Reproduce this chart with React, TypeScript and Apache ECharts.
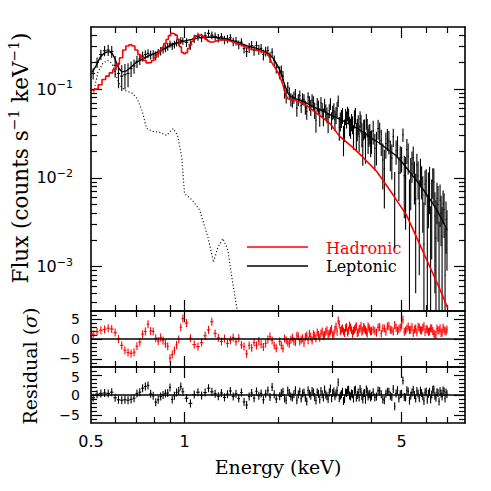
import React, { useEffect, useRef } from 'react';
import * as echarts from 'echarts';

// ---------------- data ----------------
// spectral bins (keV)
const binEnergy = [
  0.508, 0.523, 0.538, 0.553, 0.568, 0.583, 0.598, 0.613, 0.628, 0.643, 0.658, 0.673, 0.688, 0.703, 0.718, 0.733, 0.748,
  0.763, 0.778, 0.793, 0.808, 0.823, 0.838, 0.853, 0.868, 0.883, 0.898, 0.913, 0.928, 0.943, 0.958, 0.973, 0.988,
  1.015, 1.045, 1.075, 1.105, 1.135, 1.165, 1.195, 1.225, 1.255, 1.285, 1.315, 1.345, 1.375, 1.405, 1.435, 1.465, 1.495,
  1.525, 1.555, 1.585, 1.615, 1.645, 1.675, 1.705, 1.735, 1.765, 1.795, 1.825, 1.855, 1.885, 1.915, 1.945, 1.975,
  2.025, 2.05, 2.075, 2.1, 2.125, 2.15, 2.175, 2.2, 2.225, 2.25, 2.275, 2.3, 2.325, 2.35, 2.375, 2.4, 2.425, 2.45, 2.475,
  2.5, 2.525, 2.55, 2.575, 2.6, 2.625, 2.65, 2.675, 2.7, 2.725, 2.75, 2.775, 2.8, 2.825, 2.85, 2.875, 2.9, 2.925, 2.95,
  2.975, 3.0, 3.025, 3.05, 3.075, 3.1, 3.125, 3.15, 3.175, 3.2, 3.225, 3.25, 3.275, 3.3, 3.325, 3.35, 3.375, 3.4, 3.425,
  3.45, 3.475, 3.5, 3.525, 3.55, 3.575, 3.6, 3.625, 3.65, 3.675, 3.7, 3.725, 3.75, 3.775, 3.8, 3.825, 3.85, 3.875, 3.9,
  3.925, 3.95, 3.975, 4.0,
  4.05, 4.1, 4.15, 4.2, 4.25, 4.3, 4.35, 4.4, 4.45, 4.5, 4.55, 4.6, 4.65, 4.7, 4.75, 4.8, 4.85, 4.9, 4.95, 5.0, 5.05, 5.1,
  5.15, 5.2, 5.25, 5.3, 5.35, 5.4, 5.45, 5.5, 5.55, 5.6, 5.65, 5.7, 5.75, 5.8, 5.85, 5.9, 5.95, 6.0, 6.05, 6.1, 6.15, 6.2,
  6.25, 6.3, 6.35, 6.4, 6.45, 6.5, 6.55, 6.6, 6.65, 6.7, 6.75, 6.8, 6.85, 6.9, 6.95, 7.0,
];
// observed flux (counts s^-1 keV^-1)
const dataFlux = [
  0.150, 0.200, 0.245, 0.270, 0.275, 0.265, 0.185, 0.150, 0.140, 0.145, 0.150, 0.170, 0.182, 0.205, 0.218, 0.235, 0.245,
  0.252, 0.243, 0.245, 0.238, 0.255, 0.268, 0.280, 0.288, 0.300, 0.322, 0.305, 0.318, 0.333, 0.340, 0.352, 0.348,
  0.336, 0.315, 0.370, 0.391, 0.378, 0.397, 0.424, 0.405, 0.392, 0.375, 0.388, 0.358, 0.368, 0.378, 0.341, 0.348, 0.316,
  0.338, 0.286, 0.264, 0.293, 0.309, 0.273, 0.309, 0.279, 0.287, 0.244, 0.266, 0.272, 0.228, 0.260, 0.210, 0.175,
  0.154, 0.160, 0.140, 0.0959, 0.0844, 0.1058, 0.0912, 0.0768, 0.0742, 0.0810,
  0.0881, 0.0610, 0.0759, 0.0847, 0.0651, 0.0777, 0.0761, 0.0626, 0.0558, 0.0811,
  0.0700, 0.0629, 0.0748, 0.0706, 0.0583, 0.0446, 0.0674, 0.0625, 0.0493, 0.0696,
  0.0587, 0.0493, 0.0672, 0.0559, 0.0516, 0.0424, 0.0572, 0.0684, 0.0449, 0.0550,
  0.0575, 0.0452, 0.0515, 0.0599, 0.0736, 0.0372, 0.0439, 0.0472, 0.0507, 0.0280,
  0.0353, 0.0496, 0.0458, 0.0533, 0.0505, 0.0390, 0.0369, 0.0430, 0.0401, 0.0299,
  0.0468, 0.0507, 0.0310, 0.0360, 0.0404, 0.0293, 0.0462, 0.0419, 0.0316, 0.0230,
  0.0357, 0.0365, 0.0235, 0.0437, 0.0371, 0.0271, 0.0308, 0.0321, 0.0253, 0.0264,
  0.0339, 0.0216, 0.0234, 0.0359, 0.0328, 0.0262, 0.0159, 0.0126, 0.0244, 0.0278,
  0.0260, 0.0190, 0.0167, 0.0290, 0.0066, 0.0202, 0.0233, 0.0113, 0.0169, 0.0169,
  0.0306, 0.0106, 0.0099, 0.0208, 0.0176, 0.0036, 0.0105, 0.0143, 0.0168, 0.0101,
  0.0058, 0.0140, 0.0105, 0.0051, 0.0121, 0.0096, 0.0064, 0.0018, 0.0085, 0.0093,
  0.0010, 0.0071, 0.0086, 0.0009, 0.0054, 0.0093, 0.0089, 0.0037, 0.0021, 0.0059,
  0.0050, 0.0006, 0.0056, 0.0040, 0.0022, 0.0051, 0.0044, 0.0008, 0.0034, 0.0026,
];
// 1-sigma flux errors
const dataError = [
  0.022, 0.027, 0.032, 0.036, 0.040, 0.040, 0.050, 0.048, 0.045, 0.046, 0.045, 0.034, 0.033, 0.032, 0.031, 0.030, 0.029,
  0.029, 0.028, 0.028, 0.028, 0.028, 0.029, 0.029, 0.029, 0.030, 0.031, 0.030, 0.031, 0.031, 0.031, 0.032, 0.032,
  0.038, 0.038, 0.039, 0.041, 0.041, 0.041, 0.042, 0.041, 0.041, 0.041, 0.041, 0.039, 0.039, 0.038, 0.038, 0.038, 0.036,
  0.036, 0.035, 0.035, 0.038, 0.038, 0.036, 0.036, 0.036, 0.035, 0.034, 0.034, 0.032, 0.031, 0.029, 0.028, 0.025,
  0.025, 0.0237, 0.0195, 0.0179, 0.0156, 0.0144, 0.0134, 0.0131, 0.0125, 0.0126,
  0.0120, 0.0123, 0.0117, 0.0118, 0.0114, 0.0117, 0.0111, 0.0113, 0.0108, 0.0109,
  0.0130, 0.0131, 0.0127, 0.0126, 0.0124, 0.0124, 0.0120, 0.0118, 0.0116, 0.0116,
  0.0112, 0.0112, 0.0108, 0.0110, 0.0105, 0.0106, 0.0103, 0.0104, 0.0100, 0.0100,
  0.0116, 0.0117, 0.0112, 0.0114, 0.0109, 0.0111, 0.0107, 0.0108, 0.0104, 0.0105,
  0.0101, 0.0102, 0.0099, 0.0099, 0.0096, 0.0096, 0.0094, 0.0094, 0.0091, 0.0092,
  0.0108, 0.0104, 0.0105, 0.0101, 0.0103, 0.0099, 0.0099, 0.0096, 0.0096, 0.0093,
  0.0094, 0.0090, 0.0091, 0.0088, 0.0088, 0.0085, 0.0086, 0.0083, 0.0083, 0.0078,
  0.0101, 0.0096, 0.0096, 0.0091, 0.0091, 0.0086, 0.0085, 0.0081, 0.0080, 0.0076,
  0.0076, 0.0071, 0.0071, 0.0067, 0.0050, 0.0062, 0.0061, 0.0058, 0.0058, 0.0054,
  0.0053, 0.0071, 0.0073, 0.0065, 0.0067, 0.0060, 0.0062, 0.0055, 0.0058, 0.0051,
  0.0053, 0.0047, 0.0048, 0.0043, 0.0043, 0.0039, 0.0040, 0.0035, 0.0036, 0.0032,
  0.0052, 0.0044, 0.0047, 0.0039, 0.0042, 0.0035, 0.0038, 0.0032, 0.0035, 0.0029,
  0.0031, 0.0026, 0.0028, 0.0023, 0.0025, 0.0021, 0.0023, 0.0019, 0.0020, 0.0017,
];
// residuals (sigma) for the hadronic fit
const residualHadronic = [
  1.2, 1.8, 2.2, 2.4, 2.7, 2.5, 1.6, 0.0, -1.6, -2.8, -3.4, -3.6, -3.3, -1.8, -0.8, 1.2, 1.9, 3.7, 2.0, 1.9, 0.2, -0.5,
  0.4, -0.4, -1.2, -1.8, -4.8, -3.9, -2.9, -1.5, -0.1, 2.9, 5.1,
  4.0, 0.2, -1.4, -1.9, -0.9, 0.8, 2.3, 4.3, 1.4, 0.3, -0.6, 0.1, -1.1, -0.3, 0.4, -0.7, 0.2, -1.5, -1.9, -3.7, -1.6,
  -2.2, -0.9, -1.6, -0.5, -1.3, -2.0, -1.1, -0.1, 0.6, -0.4, -1.6, -2.3,
  -0.6, -1.6, -2.4, 0.1, -0.3, -0.9, -1.2, -0.2, 0.4, -0.5, -0.8, 0.8, 0.6, -0.6, -0.2, 0.2, -1.0, 0.5, 0.9, -0.3,
  1.3, 0.6, -0.4, 1.2, 0.8, 0.2, 1.6, 1.0, 0.3, 1.4, 1.9, 0.7, 1.0, 1.8, 2.2, 1.1, 1.4, 2.0, 2.5, 0.9,
  1.2, 2.3, 3.1, 1.8, 4.6, 3.6, 2.0, 2.4, 2.6, 1.9, 1.5, 2.7, 3.0, 1.6, 2.1, 3.4, 2.9, 2.2, 1.3, 2.0,
  2.4, 2.8, 3.2, 1.5, 1.7, 2.5, 2.6, 3.3, 1.9, 2.1, 3.0, 2.6, 2.2, 1.8, 1.4, 3.1, 2.8, 2.4, 1.9, 2.0,
  2.4, 2.0, 1.6, 2.9, 3.0, 1.4, 2.7, 2.6, 1.8, 3.1, 3.3, 2.3, 2.2, 1.9, 3.5, 2.8, 2.0, 2.5, 2.9, 3.4,
  4.8, 1.8, 2.1, 2.6, 3.1, 2.2, 2.3, 3.0, 1.5, 2.4, 2.6, 1.6, 3.0, 2.9, 2.2, 2.1, 2.8, 3.2, 1.7, 2.5,
  2.4, 1.8, 1.9, 2.7, 2.6, 2.0, 1.4, 1.2, 1.0, 2.6, 2.1, 2.2, 2.7, 1.5, 1.6, 2.8, 2.3, 2.0, 1.9, 2.4,
];
// residuals (sigma) for the leptonic fit
const residualLeptonic = [
  -0.7, 0.2, 0.4, 0.5, 0.4, 0.7, -0.7, -1.2, -1.3, -1.2, -1.3, -1.1, -0.8, 0.4, 0.7, 1.7, 2.1, 2.4, 0.3, -0.2, -1.8, -1.2,
  -0.4, 0.0, 0.4, 0.5, 1.9, -1.1, -0.2, 0.6, 1.0, 2.1, 0.8,
  -0.8, -2.1, 0.1, 0.7, -0.1, 0.6, 1.7, 0.8, 0.3, -0.3, 0.5, -0.6, 0.2, 1.0, -0.4, 0.3, -0.9, 0.6, -1.7, -2.5, -0.4, 0.5,
  -0.8, 0.9, -0.2, 0.4, -1.2, 0.3, 1.1, -0.5, 2.0, 0.2, -1.0,
  -0.3, 0.5, 0.8, -0.9, -1.3, 1.1, 0.5, -0.4, -0.6, 0.2, 1.2, -1.3, 0.1, 0.9, -0.9, 0.4, 0.6, -0.7, -1.6, 1.2,
  0.3, -0.2, 1.0, 0.6, -0.5, -1.4, 0.7, 0.3, -1.1, 1.0, 0.2, -0.6, 1.4, 0.1, -0.3, -1.0, 0.6, 1.6, -0.8, 0.5,
  0.9, -0.3, 0.4, 1.1, 3.2, -0.8, -0.2, 0.2, 0.8, -1.5, -1.0, 0.7, 0.5, 1.2, 1.3, -0.1, -0.4, 0.4, 0.2, -0.9,
  1.1, 1.3, -0.7, 0.0, 0.6, -0.6, 1.5, 0.8, -0.3, -1.1, 0.4, 0.5, -1.2, 1.4, 0.9, -0.4, 0.1, 0.3, -0.6, -0.2,
  0.7, -0.6, -0.4, 1.1, 1.0, 0.2, -1.1, -1.3, 0.3, 0.8, 0.8, -0.2, -0.5, 1.5, -2.8, 0.4, 1.2, -0.9, 0.2, 0.3,
  3.6, -0.5, -0.6, 1.2, 0.9, -1.4, -0.2, 0.6, 1.3, 0.0, -0.9, 1.0, 0.4, -0.8, 1.1, 0.5, -0.3, -1.5, 0.6, 0.9,
  -1.2, 0.3, 0.8, -1.1, 0.1, 1.3, 1.4, -0.2, -0.7, 0.7, 0.5, -1.6, 1.0, 0.4, -0.4, 1.1, 0.9, -0.9, 0.6, 0.2,
];
// hadronic model, binned (stepped) part
const hadronicStepEnergy = [
  0.505, 0.52, 0.535, 0.55, 0.565, 0.58, 0.595, 0.61, 0.625, 0.64, 0.655, 0.67, 0.685, 0.7, 0.715, 0.73, 0.745, 0.76,
  0.775, 0.79, 0.805, 0.82, 0.835, 0.85, 0.865, 0.88, 0.895, 0.91, 0.925, 0.94, 0.955, 0.97, 0.985, 1.0, 1.015, 1.03,
  1.045, 1.06, 1.075, 1.09, 1.105, 1.12, 1.135, 1.15, 1.165, 1.18, 1.195, 1.21, 1.225,
];
const hadronicStepFlux = [
  0.097, 0.100, 0.112, 0.128, 0.140, 0.152, 0.165, 0.190, 0.225, 0.275, 0.305, 0.315, 0.305, 0.275, 0.245, 0.225, 0.210,
  0.197, 0.198, 0.210, 0.228, 0.248, 0.268, 0.292, 0.325, 0.362, 0.400, 0.424, 0.420, 0.405, 0.360, 0.300, 0.258, 0.250,
  0.258, 0.285, 0.318, 0.345, 0.375, 0.398, 0.405, 0.405, 0.400, 0.390, 0.375, 0.360, 0.347, 0.339, 0.336,
];
// hadronic model, continuum part
const hadronicEnergy = [
  1.225, 1.26, 1.3, 1.35, 1.4, 1.45, 1.508, 1.56, 1.623, 1.68, 1.722, 1.78, 1.841, 1.875, 1.905, 1.95, 1.998, 2.05, 2.08,
  2.104, 2.13, 2.15, 2.2, 2.29, 2.4, 2.47, 2.588, 2.726, 2.935, 3.16, 3.48, 3.667, 4.159, 4.68, 5.19, 5.72, 6.3, 6.73, 7.04,
];
const hadronicFlux = [
  0.336, 0.345, 0.358, 0.358, 0.348, 0.335, 0.319, 0.302, 0.285, 0.276, 0.273, 0.265, 0.25, 0.232, 0.201, 0.178, 0.155,
  0.125, 0.108, 0.0925, 0.083, 0.078, 0.0755, 0.0746, 0.069, 0.0655, 0.0575, 0.0506, 0.0411, 0.0293, 0.022, 0.0185,
  0.0118, 0.00652, 0.00378, 0.00178, 0.000841, 0.0005, 0.000339,
];
// leptonic model
const leptonicEnergy = [
  0.505, 0.52, 0.535, 0.55, 0.565, 0.575, 0.585, 0.595, 0.605, 0.615, 0.63, 0.65, 0.67, 0.7, 0.72, 0.76, 0.815, 0.87,
  0.916, 0.97, 1.02, 1.12, 1.23, 1.33, 1.43, 1.52, 1.6, 1.7, 1.8, 1.87, 1.93, 2.0, 2.05, 2.1, 2.15, 2.2, 2.3, 2.4, 2.5,
  2.6, 2.7, 2.8, 2.9, 3.0, 3.2, 3.4, 3.6, 3.8, 4.0, 4.25, 4.5, 4.75, 5.0, 5.3, 5.6, 5.9, 6.2, 6.5, 6.8, 7.0,
];
const leptonicFlux = [
  0.155, 0.185, 0.228, 0.252, 0.262, 0.262, 0.252, 0.225, 0.195, 0.17, 0.156, 0.16, 0.175, 0.2, 0.21, 0.233, 0.259, 0.289,
  0.322, 0.338, 0.354, 0.38, 0.386, 0.373, 0.35, 0.326, 0.305, 0.289, 0.268, 0.248, 0.222, 0.18, 0.148, 0.112, 0.09,
  0.082, 0.077, 0.073, 0.068, 0.063, 0.059, 0.056, 0.053, 0.05, 0.045, 0.04, 0.036, 0.032, 0.028, 0.0245, 0.021, 0.0183,
  0.0152, 0.0118, 0.0092, 0.0072, 0.0056, 0.0043, 0.0032, 0.0026,
];
// dotted soft component
const softEnergy = [
  0.51, 0.526, 0.546, 0.566, 0.584, 0.601, 0.62, 0.643, 0.68, 0.703, 0.73, 0.755, 0.79, 0.833, 0.876, 0.92, 0.95, 0.98,
  1.0, 1.06, 1.12, 1.19, 1.24, 1.28, 1.33, 1.38, 1.42, 1.47, 1.5,
];
const softFlux = [
  0.0916, 0.154, 0.195, 0.21, 0.195, 0.143, 0.11, 0.0967, 0.0894, 0.0786, 0.0575, 0.036, 0.0334, 0.0325, 0.03, 0.036,
  0.03, 0.017, 0.00665, 0.0056, 0.0043, 0.00213, 0.00112, 0.00164, 0.00207, 0.00153, 0.00076, 0.00036, 0.00024,
];

// axis ranges and ticks
const energyRange = [0.5, 8];
const fluxRange = [10 ** -3.5, 10 ** -0.30103];
const residualRange = [-7, 7];
const xMajorTicks = [1, 5];
const xMinorTicks = [0.6, 0.7, 0.8, 0.9, 2, 3, 4, 6, 7];
const xTickLabelValues = [0.5, 1, 5];
const xTickLabels = ['0.5', '1', '5'];
const yMainLabelValues = [0.1, 0.01, 0.001];
const residualMajorTicks = [-5, 0, 5];
const residualMinorTicks = [-6, -4, -3, -2, -1, 1, 2, 3, 4, 6];

// ---------------- chart ----------------
const L = Math.log10;
const FONT_NUM = 'DejaVu Sans';
const FONT_TXT = 'DejaVu Serif';
const RED = '#ff0000';
const BLACK = '#000000';

function buildOption() {
  const LX0 = L(energyRange[0]);
  const LX1 = L(energyRange[1]);
  const LY0 = L(fluxRange[0]);
  const LY1 = L(fluxRange[1]);

  const grids = [
    { left: 91, top: 27, width: 374, height: 284 },
    { left: 91, top: 311, width: 374, height: 56 },
    { left: 91, top: 367, width: 374, height: 56 },
  ].map((g) => ({ ...g, containLabel: false, outerBoundsMode: 'none' }));

  const frame = { color: BLACK, width: 1.6 };
  const tickStyle = { color: BLACK, width: 1.2 };

  const xLabelPos = xTickLabelValues.map(L);
  const xLabelFormatter = (v: number) => {
    const i = xLabelPos.findIndex((p) => Math.abs(p - v) < 1e-6);
    return i >= 0 ? xTickLabels[i] : '';
  };

  const xAxis: any[] = [];
  const yAxis: any[] = [];
  for (let g = 0; g < 3; g++) {
    const base = { gridIndex: g, type: 'value', min: LX0, max: LX1, splitLine: { show: false } };
    const label =
      g === 2
        ? {
            show: true,
            customValues: xLabelPos,
            formatter: xLabelFormatter,
            margin: 10,
            color: BLACK,
            fontSize: 16,
            fontFamily: FONT_NUM,
          }
        : { show: false };
    for (const pos of ['bottom', 'top']) {
      xAxis.push({
        ...base,
        position: pos,
        axisLine: { show: true, onZero: false, lineStyle: frame },
        axisTick: { show: true, inside: true, length: 11, customValues: xMajorTicks.map(L), lineStyle: tickStyle },
        axisLabel: pos === 'bottom' ? label : { show: false },
      });
      xAxis.push({
        ...base,
        position: pos,
        axisLine: { show: false, onZero: false },
        axisTick: { show: true, inside: true, length: 6, customValues: xMinorTicks.map(L), lineStyle: tickStyle },
        axisLabel: { show: false },
      });
    }
  }

  // main y axis
  const yMinor: number[] = [];
  for (let n = -4; n <= -1; n++) {
    for (let k = 2; k <= 9; k++) {
      const v = L(k * 10 ** n);
      if (v > LY0 + 1e-6 && v < LY1 - 1e-3) yMinor.push(v);
    }
  }
  const yMainBase = { gridIndex: 0, type: 'value', min: LY0, max: LY1, splitLine: { show: false } };
  for (const pos of ['left', 'right']) {
    yAxis.push({
      ...yMainBase,
      position: pos,
      axisLine: { show: true, onZero: false, lineStyle: frame },
      axisTick: { show: true, inside: true, length: 11, customValues: yMainLabelValues.map(L), lineStyle: tickStyle },
      axisLabel:
        pos === 'left'
          ? {
              show: true,
              customValues: yMainLabelValues.map(L),
              margin: 18,
              formatter: (v: number) => `{b|10}{s|\u2212${Math.round(-v)}}`,
              rich: {
                b: { fontSize: 16, fontFamily: FONT_NUM, color: BLACK, lineHeight: 20 },
                s: { fontSize: 11, fontFamily: FONT_NUM, color: BLACK, verticalAlign: 'top', lineHeight: 12 },
              },
            }
          : { show: false },
    });
    yAxis.push({
      ...yMainBase,
      position: pos,
      axisLine: { show: false, onZero: false },
      axisTick: { show: true, inside: true, length: 6, customValues: yMinor, lineStyle: tickStyle },
      axisLabel: { show: false },
    });
  }
  // residual y axes
  const numStyle = { fontSize: 14, fontFamily: FONT_NUM, color: BLACK };
  for (let g = 1; g < 3; g++) {
    const base = { gridIndex: g, type: 'value', min: residualRange[0], max: residualRange[1], splitLine: { show: false } };
    const resFormatter = (v: number) => {
      const txt = v < 0 ? '\u2212' + Math.abs(v) : String(v);
      if (g === 1 && v < 0) return `{u|${txt}}`;
      if (g === 2 && v > 0) return `{d|${txt}}`;
      return `{n|${txt}}`;
    };
    for (const pos of ['left', 'right']) {
      yAxis.push({
        ...base,
        position: pos,
        axisLine: { show: true, onZero: false, lineStyle: frame },
        axisTick: { show: true, inside: true, length: 11, customValues: residualMajorTicks, lineStyle: tickStyle },
        axisLabel:
          pos === 'left'
            ? {
                show: true,
                customValues: residualMajorTicks,
                margin: 11,
                formatter: resFormatter,
                rich: {
                  n: { ...numStyle },
                  u: { ...numStyle, padding: [0, 0, 3, 0] },
                  d: { ...numStyle, padding: [3, 0, 0, 0] },
                },
              }
            : { show: false },
      });
      yAxis.push({
        ...base,
        position: pos,
        axisLine: { show: false, onZero: false },
        axisTick: { show: true, inside: true, length: 6, customValues: residualMinorTicks, lineStyle: tickStyle },
        axisLabel: { show: false },
      });
    }
  }

  // bins
  const n = Math.min(binEnergy.length, dataFlux.length, dataError.length, residualHadronic.length, residualLeptonic.length);
  const halfWidth = binEnergy.map((e, i) => {
    const prev = i > 0 ? binEnergy[i - 1] : 2 * e - binEnergy[i + 1];
    const next = i < binEnergy.length - 1 ? binEnergy[i + 1] : 2 * e - binEnergy[i - 1];
    return (next - prev) / 4;
  });

  const fluxCrosses: number[][] = [];
  const hadCrosses: number[][] = [];
  const lepCrosses: number[][] = [];
  for (let i = 0; i < n; i++) {
    const e = binEnergy[i];
    const xl = L(e - halfWidth[i]);
    const xh = L(e + halfWidth[i]);
    const f = dataFlux[i];
    const lo = f - dataError[i];
    fluxCrosses.push([L(e), xl, xh, L(f), lo > 0 ? L(lo) : -99, L(f + dataError[i])]);
    hadCrosses.push([L(e), xl, xh, residualHadronic[i], residualHadronic[i] - 1, residualHadronic[i] + 1]);
    lepCrosses.push([L(e), xl, xh, residualLeptonic[i], residualLeptonic[i] - 1, residualLeptonic[i] + 1]);
  }

  const crossRender = (yMin: number, yMax: number, color: string, width: number) => (params: any, api: any) => {
    const clampY = (v: number) => Math.max(yMin, Math.min(yMax, v));
    const x = api.value(0);
    const y = clampY(api.value(3));
    const pL = api.coord([api.value(1), y]);
    const pR = api.coord([api.value(2), y]);
    const pB = api.coord([x, clampY(api.value(4))]);
    const pT = api.coord([x, clampY(api.value(5))]);
    const style = { stroke: color, lineWidth: width };
    return {
      type: 'group',
      children: [
        { type: 'line', shape: { x1: pL[0], y1: pL[1], x2: pR[0], y2: pR[1] }, style },
        { type: 'line', shape: { x1: pB[0], y1: pB[1], x2: pT[0], y2: pT[1] }, style },
      ],
    };
  };

  const toLog = (es: number[], fs: number[]) => es.map((e, i) => [L(e), L(fs[i])]);

  const series: any[] = [
    {
      type: 'custom',
      name: 'Data',
      xAxisIndex: 0,
      yAxisIndex: 0,
      renderItem: crossRender(LY0, LY1, BLACK, 1.1),
      data: fluxCrosses,
      encode: { x: 0, y: 3 },
      silent: true,
      z: 2,
    },
    {
      type: 'line',
      name: 'Leptonic',
      xAxisIndex: 0,
      yAxisIndex: 0,
      data: toLog(leptonicEnergy, leptonicFlux),
      showSymbol: false,
      symbol: 'none',
      lineStyle: { color: BLACK, width: 1.4 },
      silent: true,
      z: 3,
    },
    {
      type: 'line',
      name: 'Soft',
      xAxisIndex: 0,
      yAxisIndex: 0,
      data: toLog(softEnergy, softFlux),
      showSymbol: false,
      symbol: 'none',
      lineStyle: { color: BLACK, width: 1.1, type: [1.1, 2.2] },
      silent: true,
      z: 2,
    },
    {
      type: 'line',
      name: 'HadronicStep',
      xAxisIndex: 0,
      yAxisIndex: 0,
      data: toLog(hadronicStepEnergy, hadronicStepFlux),
      step: 'middle',
      showSymbol: false,
      symbol: 'none',
      lineStyle: { color: RED, width: 1.6 },
      silent: true,
      z: 4,
    },
    {
      type: 'line',
      name: 'Hadronic',
      xAxisIndex: 0,
      yAxisIndex: 0,
      data: toLog(hadronicEnergy, hadronicFlux),
      showSymbol: false,
      symbol: 'none',
      lineStyle: { color: RED, width: 1.6 },
      silent: true,
      z: 4,
    },
    {
      type: 'line',
      name: 'Zero1',
      xAxisIndex: 4,
      yAxisIndex: 4,
      data: [
        [LX0, 0],
        [LX1, 0],
      ],
      showSymbol: false,
      symbol: 'none',
      lineStyle: { color: BLACK, width: 1.3 },
      silent: true,
      z: 3,
    },
    {
      type: 'custom',
      name: 'ResidHadronic',
      xAxisIndex: 4,
      yAxisIndex: 4,
      renderItem: crossRender(residualRange[0], residualRange[1], RED, 1.1),
      data: hadCrosses,
      encode: { x: 0, y: 3 },
      silent: true,
      z: 2,
    },
    {
      type: 'line',
      name: 'Zero2',
      xAxisIndex: 8,
      yAxisIndex: 8,
      data: [
        [LX0, 0],
        [LX1, 0],
      ],
      showSymbol: false,
      symbol: 'none',
      lineStyle: { color: BLACK, width: 1.3 },
      silent: true,
      z: 3,
    },
    {
      type: 'custom',
      name: 'ResidLeptonic',
      xAxisIndex: 8,
      yAxisIndex: 8,
      renderItem: crossRender(residualRange[0], residualRange[1], BLACK, 1.1),
      data: lepCrosses,
      encode: { x: 0, y: 3 },
      silent: true,
      z: 2,
    },
  ];

  const graphic: any[] = [
    {
      type: 'text',
      x: 278,
      y: 467,
      style: {
        text: 'Energy (keV)',
        fontSize: 19,
        fontFamily: FONT_TXT,
        fill: BLACK,
        align: 'center',
        verticalAlign: 'middle',
      },
    },
    {
      type: 'text',
      x: 20,
      y: 158,
      rotation: Math.PI / 2,
      style: {
        text: '{t|Flux (counts s}{s|\u22121}{t| keV}{s|\u22121}{t|)}',
        align: 'center',
        verticalAlign: 'middle',
        rich: {
          t: { fontSize: 21.5, fontFamily: FONT_TXT, fill: BLACK, lineHeight: 26 },
          s: { fontSize: 14, fontFamily: FONT_TXT, fill: BLACK, verticalAlign: 'top', lineHeight: 15 },
        },
      },
    },
    {
      type: 'text',
      x: 30,
      y: 366,
      rotation: Math.PI / 2,
      style: {
        text: '{t|Residual (}{i|\u03c3}{t|)}',
        align: 'center',
        verticalAlign: 'middle',
        rich: {
          t: { fontSize: 19, fontFamily: FONT_TXT, fill: BLACK },
          i: { fontSize: 19, fontFamily: FONT_TXT, fill: BLACK, fontStyle: 'italic' },
        },
      },
    },
    { type: 'line', shape: { x1: 247, y1: 247, x2: 308, y2: 247 }, style: { stroke: RED, lineWidth: 1.6 } },
    {
      type: 'text',
      x: 326,
      y: 248,
      style: { text: 'Hadronic', fontSize: 16, fontFamily: FONT_TXT, fill: RED, align: 'left', verticalAlign: 'middle' },
    },
    { type: 'line', shape: { x1: 247, y1: 266, x2: 308, y2: 266 }, style: { stroke: BLACK, lineWidth: 1.6 } },
    {
      type: 'text',
      x: 326,
      y: 266,
      style: { text: 'Leptonic', fontSize: 16, fontFamily: FONT_TXT, fill: BLACK, align: 'left', verticalAlign: 'middle' },
    },
  ];

  return {
    animation: false,
    backgroundColor: '#ffffff',
    grid: grids,
    xAxis,
    yAxis,
    series,
    graphic,
  };
}

export default function App() {
  const ref = useRef<HTMLDivElement>(null);
  useEffect(() => {
    if (!ref.current) return;
    const chart = echarts.init(ref.current, undefined, { renderer: 'svg' });
    chart.setOption(buildOption() as any);
    return () => {
      chart.dispose();
    };
  }, []);
  return (
    <div
      ref={ref}
      style={{ position: 'fixed', left: 0, top: 0, width: 491, height: 491, background: '#ffffff' }}
    />
  );
}
